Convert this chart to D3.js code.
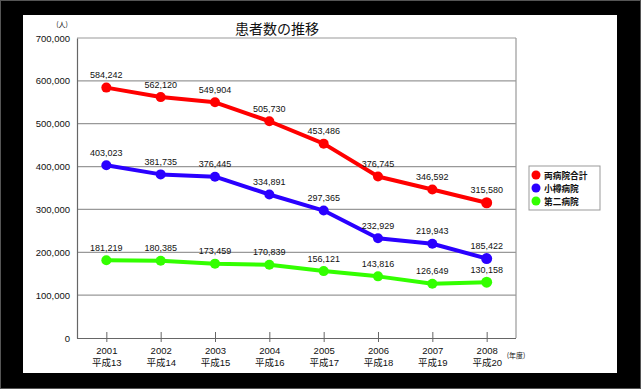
<!DOCTYPE html>
<html>
<head>
<meta charset="utf-8">
<script src="https://cdn.jsdelivr.net/npm/d3@7"></script>
<style>
  body { margin: 0; background: #000; }
  svg { display: block; }
  text { font-family: "Liberation Sans", Arial, "Noto Sans CJK JP", sans-serif; fill: #111; }
  .jp { font-family: "Noto Sans CJK JP", sans-serif; }
</style>
</head>
<body>
<svg id="chart" width="641" height="389"></svg>
<script>
const years = ['2001', '2002', '2003', '2004', '2005', '2006', '2007', '2008'];
const eras = ['平成13', '平成14', '平成15', '平成16', '平成17', '平成18', '平成19', '平成20'];
const total = [584242, 562120, 549904, 505730, 453486, 376745, 346592, 315580];
const otaru = [403023, 381735, 376445, 334891, 297365, 232929, 219943, 185422];
const second = [181219, 180385, 173459, 170839, 156121, 143816, 126649, 130158];
const yTicks = [0, 100000, 200000, 300000, 400000, 500000, 600000, 700000];

const series = [
  { name: '両病院合計', values: total, color: '#ff0000' },
  { name: '小樽病院', values: otaru, color: '#2a00ff' },
  { name: '第二病院', values: second, color: '#33ff00' }
];

const svg = d3.select('#chart');

// outer frame + white panel
svg.append('rect').attr('x', 0.5).attr('y', 0.5).attr('width', 640).attr('height', 388)
  .attr('fill', '#000').attr('stroke', '#555');
svg.append('rect').attr('x', 23).attr('y', 15).attr('width', 594).attr('height', 358).attr('fill', '#fff');

const plot = { left: 77, right: 516, top: 38, bottom: 338 };

const x = d3.scalePoint().domain(years).range([plot.left, plot.right]).padding(0.54);
const y = d3.scaleLinear().domain([0, 700000]).range([plot.bottom, plot.top]);

// gridlines
svg.append('g').selectAll('line').data(yTicks.slice(1)).enter().append('line')
  .attr('x1', plot.left).attr('x2', plot.right)
  .attr('y1', d => y(d)).attr('y2', d => y(d))
  .attr('stroke', '#999').attr('stroke-width', 1.2);

// right border
svg.append('line').attr('x1', plot.right).attr('x2', plot.right)
  .attr('y1', plot.top).attr('y2', plot.bottom).attr('stroke', '#999').attr('stroke-width', 1.2);

// y axis
const yAxis = svg.append('g').attr('transform', `translate(${plot.left},0)`)
  .call(d3.axisLeft(y).tickValues(yTicks).tickSize(0).tickPadding(7).tickFormat(d3.format(',')));
yAxis.select('.domain').attr('stroke', '#666').attr('stroke-width', 1.2);
yAxis.selectAll('text').style('font-size', '9.5px').attr('fill', '#111');

// x axis
const xAxis = svg.append('g').attr('transform', `translate(0,${plot.bottom})`)
  .call(d3.axisBottom(x).tickSize(4).tickFormat(''));
xAxis.select('.domain').attr('d', `M${plot.left},0.5H${plot.right}`).attr('stroke', '#666').attr('stroke-width', 1.2);
xAxis.selectAll('.tick line').attr('y1', -6).attr('y2', 4).attr('stroke', '#666');

xAxis.selectAll('.tick').append('text')
  .attr('y', 16).attr('text-anchor', 'middle').style('font-size', '9.5px')
  .text(d => d);
xAxis.selectAll('.tick').append('text')
  .attr('y', 28).attr('text-anchor', 'middle').style('font-size', '9.5px')
  .text((d, i) => eras[i]);

// lines
const line = d3.line().x((d, i) => x(years[i])).y(d => y(d));

series.forEach(s => {
  const g = svg.append('g');
  g.append('path').datum(s.values).attr('d', line)
    .attr('fill', 'none').attr('stroke', s.color).attr('stroke-width', 4)
    .attr('stroke-linejoin', 'round');
  g.selectAll('circle').data(s.values).enter().append('circle')
    .attr('cx', (d, i) => x(years[i])).attr('cy', d => y(d))
    .attr('r', (d, i) => i === years.length - 1 ? 5.5 : 5)
    .attr('fill', s.color);
  g.selectAll('text').data(s.values).enter().append('text')
    .attr('x', (d, i) => x(years[i])).attr('y', d => y(d) - 9.5)
    .attr('text-anchor', 'middle').style('font-size', '9px')
    .text(d3.format(','));
});

// title and units
svg.append('text').attr('class', 'jp').attr('x', 277).attr('y', 34)
  .attr('text-anchor', 'middle').style('font-size', '14px').text('患者数の推移');
svg.append('text').attr('class', 'jp').attr('x', 62).attr('y', 27)
  .attr('text-anchor', 'middle').style('font-size', '7px').text('(人)');
svg.append('text').attr('class', 'jp').attr('x', 516).attr('y', 358)
  .attr('text-anchor', 'middle').style('font-size', '7px').text('(年度)');

// legend
const legend = svg.append('g').attr('transform', 'translate(529,166)');
legend.append('rect').attr('width', 71).attr('height', 44)
  .attr('fill', '#fff').attr('stroke', '#999');
const items = legend.selectAll('g').data(series).enter().append('g')
  .attr('transform', (d, i) => `translate(0,${9 + i * 13})`);
items.append('circle').attr('cx', 7).attr('cy', 0).attr('r', 4.5).attr('fill', d => d.color);
items.append('text').attr('class', 'jp').attr('x', 15).attr('y', 3.5)
  .style('font-size', '8.7px').style('font-weight', 'bold').text(d => d.name);
</script>
</body>
</html>
